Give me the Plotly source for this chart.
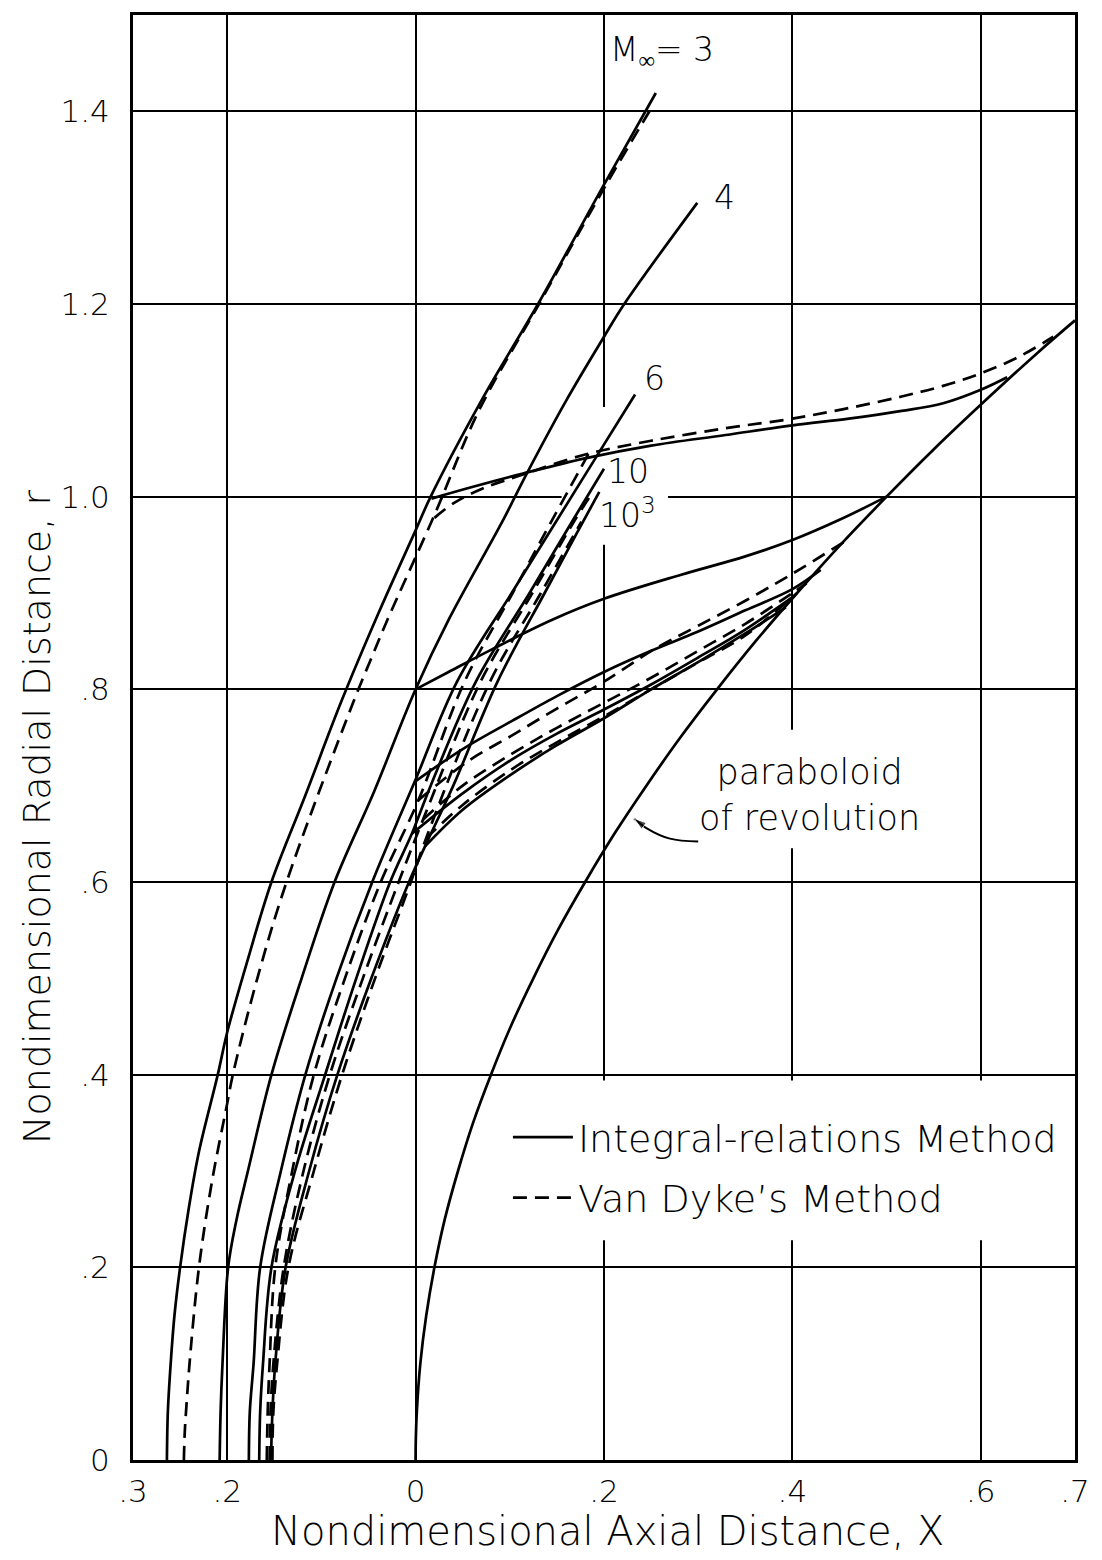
import plotly.graph_objects as go

# ---------------- data (X = axial distance, r = radial distance) ----------------
# Shock waves, Integral-relations method (solid)
m3_int_x = [-0.264, -0.263, -0.260, -0.256, -0.250, -0.241, -0.230, -0.210, -0.200, -0.178, -0.153, -0.117, -0.079, -0.039, 0.000, 0.016, 0.070, 0.130, 0.200, 0.255]
m3_int_r = [0.00, 0.05, 0.10, 0.15, 0.20, 0.26, 0.32, 0.40, 0.444, 0.52, 0.60, 0.69, 0.787, 0.88, 0.965, 1.00, 1.10, 1.20, 1.324, 1.419]
m4_int_x = [-0.208, -0.207, -0.205, -0.199, -0.190, -0.178, -0.153, -0.121, -0.086, -0.044, 0.000, 0.035, 0.092, 0.118, 0.160, 0.200, 0.2215, 0.299]
m4_int_r = [0.00, 0.05, 0.10, 0.20, 0.25, 0.30, 0.40, 0.50, 0.60, 0.694, 0.80, 0.872, 0.974, 1.024, 1.10, 1.166, 1.20, 1.305]
m6_int_x = [-0.177, -0.176, -0.172, -0.165, -0.143, -0.117, -0.084, -0.046, -0.001, 0.044, 0.102, 0.149, 0.191, 0.233]
m6_int_r = [0.00, 0.05, 0.10, 0.20, 0.30, 0.40, 0.50, 0.60, 0.704, 0.808, 0.90, 0.974, 1.04, 1.106]
m10_int_x = [-0.166, -0.165, -0.162, -0.153, -0.128, -0.096, -0.063, -0.027, -0.004, 0.016, 0.064, 0.121, 0.166, 0.200]
m10_int_r = [0.00, 0.05, 0.10, 0.20, 0.30, 0.40, 0.50, 0.60, 0.65, 0.70, 0.808, 0.90, 0.974, 1.029]
m1000_int_x = [-0.1535, -0.152, -0.149, -0.138, -0.113, -0.083, -0.047, -0.007, 0.010, 0.040, 0.087, 0.137, 0.170, 0.195]
m1000_int_r = [0.00, 0.05, 0.10, 0.20, 0.30, 0.40, 0.50, 0.60, 0.637, 0.70, 0.808, 0.90, 0.96, 1.005]

# Shock waves, Van Dyke's method (dashed)
m3_vd_x = [-0.246, -0.245, -0.243, -0.240, -0.230, -0.216, -0.200, -0.194, -0.168, -0.137, -0.066, -0.045, -0.030, 0.020, 0.067, 0.131, 0.200, 0.250]
m3_vd_r = [0.00, 0.03, 0.06, 0.10, 0.20, 0.29, 0.37, 0.40, 0.50, 0.60, 0.787, 0.837, 0.872, 0.981, 1.089, 1.20, 1.32, 1.403]
m6_vd_x = [-0.158, -0.157, -0.155, -0.149, -0.131, -0.108, -0.075, -0.037, 0.003, 0.052, 0.103, 0.144, 0.185]
m6_vd_r = [0.00, 0.05, 0.10, 0.20, 0.30, 0.40, 0.50, 0.60, 0.685, 0.808, 0.90, 0.974, 1.047]
m10_vd_x = [-0.155, -0.154, -0.151, -0.140, -0.119, -0.091, -0.056, -0.018, 0.008, 0.069, 0.124, 0.168, 0.185]
m10_vd_r = [0.00, 0.05, 0.10, 0.20, 0.30, 0.40, 0.50, 0.60, 0.665, 0.808, 0.90, 0.974, 1.00]
m1000_vd_x = [-0.152, -0.151, -0.147, -0.135, -0.108, -0.078, -0.043, -0.005, 0.011, 0.079, 0.133, 0.176]
m1000_vd_r = [0.00, 0.05, 0.10, 0.20, 0.30, 0.40, 0.50, 0.60, 0.645, 0.808, 0.90, 0.974]

# Limiting characteristics / sonic lines from shock to body
s3_int_x = [0.0168, 0.06, 0.114, 0.181, 0.25, 0.329, 0.40, 0.46, 0.516, 0.56, 0.60, 0.628]
s3_int_r = [0.998, 1.010, 1.024, 1.040, 1.053, 1.064, 1.074, 1.081, 1.089, 1.097, 1.111, 1.124]
s3_vd_x = [0.020, 0.04, 0.07, 0.114, 0.181, 0.25, 0.329, 0.40, 0.46, 0.516, 0.56, 0.60, 0.64, 0.677]
s3_vd_r = [0.978, 0.993, 1.008, 1.023, 1.044, 1.058, 1.071, 1.081, 1.092, 1.104, 1.115, 1.128, 1.145, 1.166]
s4_int_x = [0.0, 0.035, 0.08, 0.1445, 0.2, 0.282, 0.35, 0.40, 0.45, 0.50]
s4_int_r = [0.80, 0.818, 0.841, 0.872, 0.894, 0.919, 0.938, 0.955, 0.976, 1.00]
s6_int_x = [-0.001, 0.05, 0.102, 0.15, 0.2, 0.25, 0.30, 0.35, 0.40, 0.43]
s6_int_r = [0.704, 0.738, 0.767, 0.793, 0.818, 0.840, 0.860, 0.882, 0.904, 0.924]
s6_vd_x = [0.003, 0.055, 0.102, 0.15, 0.2, 0.254, 0.30, 0.35, 0.40, 0.458]
s6_vd_r = [0.685, 0.725, 0.752, 0.78, 0.808, 0.842, 0.866, 0.892, 0.92, 0.955]
s10_int_x = [-0.004, 0.05, 0.102, 0.15, 0.2, 0.25, 0.30, 0.35, 0.402]
s10_int_r = [0.65, 0.692, 0.727, 0.754, 0.779, 0.805, 0.833, 0.862, 0.897]
s10_vd_x = [0.008, 0.05, 0.102, 0.15, 0.2, 0.25, 0.30, 0.35, 0.40, 0.415]
s10_vd_r = [0.665, 0.70, 0.733, 0.76, 0.786, 0.812, 0.84, 0.868, 0.900, 0.91]
s1000_int_x = [0.010, 0.05, 0.102, 0.15, 0.2, 0.25, 0.303, 0.35, 0.393]
s1000_int_r = [0.637, 0.675, 0.712, 0.742, 0.77, 0.80, 0.83, 0.858, 0.885]
s1000_vd_x = [0.011, 0.05, 0.102, 0.15, 0.2, 0.25, 0.30, 0.35, 0.405]
s1000_vd_r = [0.645, 0.68, 0.717, 0.745, 0.772, 0.80, 0.828, 0.856, 0.90]

# Body: paraboloid of revolution
body_x = [0.0, 0.0002, 0.0013, 0.005, 0.0113, 0.020, 0.031, 0.045, 0.061, 0.080, 0.101, 0.125, 0.151,
          0.180, 0.211, 0.245, 0.281, 0.320, 0.361, 0.405, 0.451, 0.500, 0.551, 0.605, 0.661, 0.700]
body_r = [0.0, 0.02, 0.05, 0.10, 0.15, 0.20, 0.25, 0.30, 0.35, 0.40, 0.45, 0.50, 0.55,
          0.60, 0.65, 0.70, 0.75, 0.80, 0.85, 0.90, 0.95, 1.00, 1.05, 1.10, 1.15, 1.183]

# Leader from the "paraboloid of revolution" note to the body (last point = arrow tip)
leader_x = [0.300, 0.270, 0.245, 0.232]
leader_r = [0.642, 0.645, 0.656, 0.666]

x_tickvals = [-0.3, -0.2, 0.0, 0.2, 0.4, 0.6, 0.7]
x_ticktext = [".3", ".2", "0", ".2", ".4", ".6", ".7"]
y_tickvals = [0.0, 0.2, 0.4, 0.6, 0.8, 1.0, 1.2, 1.4]
y_ticktext = ["0", ".2", ".4", ".6", ".8", "1.0", "1.2", "1.4"]

# ---------------- figure ----------------
FONT = "DejaVu Sans"
DASH = "14px,8px"
fig = go.Figure()


def add(xs, rs, dashed=False, name=None, show=False, width=2.7):
    fig.add_trace(go.Scatter(
        x=xs, y=rs, mode="lines", name=name or "curve", showlegend=show,
        legendgroup=("vd" if dashed else "int"),
        line=dict(color="black", width=width, dash=(DASH if dashed else "solid"),
                  shape="spline", smoothing=1.0),
        hoverinfo="skip"))


add(m3_int_x, m3_int_r, False, "Integral-relations Method", True)
add(m3_vd_x, m3_vd_r, True, "Van Dyke\u2019s Method", True)
for xs, rs in [(m4_int_x, m4_int_r), (m6_int_x, m6_int_r), (m10_int_x, m10_int_r),
               (m1000_int_x, m1000_int_r), (s3_int_x, s3_int_r), (s4_int_x, s4_int_r),
               (s6_int_x, s6_int_r), (s10_int_x, s10_int_r), (s1000_int_x, s1000_int_r),
               (body_x, body_r)]:
    add(xs, rs, False)
for xs, rs in [(m6_vd_x, m6_vd_r), (m10_vd_x, m10_vd_r), (m1000_vd_x, m1000_vd_r),
               (s3_vd_x, s3_vd_r), (s6_vd_x, s6_vd_r), (s10_vd_x, s10_vd_r),
               (s1000_vd_x, s1000_vd_r)]:
    add(xs, rs, True)

# leader with arrow head at the body
fig.add_trace(go.Scatter(
    x=leader_x, y=leader_r, mode="lines+markers", showlegend=False, hoverinfo="skip",
    line=dict(color="black", width=2, shape="spline", smoothing=1.0),
    marker=dict(symbol=["circle"] * (len(leader_x) - 1) + ["arrow"],
                size=[0] * (len(leader_x) - 1) + [13], angleref="previous", color="black")))

# white areas that interrupt the grid (legend and labels)
for x0, x1, y0, y1 in [(0.078, 0.7, 0.228, 0.394), (0.155, 0.268, 0.95, 1.093),
                       (0.29, 0.56, 0.635, 0.758)]:
    fig.add_shape(type="rect", xref="x", yref="y", x0=x0, x1=x1, y0=y0, y1=y1,
                  fillcolor="white", line=dict(width=0), layer="between")

lab_font = dict(family=FONT, size=33, color="black")
labels = [
    ("M<sub>\u221e</sub>= 3", 0.262, 1.462, "center"),
    ("4", 0.328, 1.311, "center"),
    ("6", 0.254, 1.123, "center"),
    ("10", 0.201, 1.026, "left"),
    ("10<sup>3</sup>", 0.193, 0.983, "left"),
]
for txt, xx, yy, anc in labels:
    fig.add_annotation(x=xx, y=yy, xref="x", yref="y", text=txt, showarrow=False,
                       xanchor=anc, yanchor="middle", font=lab_font)

fig.add_annotation(x=0.418, y=0.69, xref="x", yref="y", text="paraboloid<br>of revolution",
                   showarrow=False, xanchor="center", yanchor="middle",
                   font=dict(family=FONT, size=35, color="black"))

# axis titles
fig.add_annotation(x=0.504, y=-0.049, xref="paper", yref="paper",
                   text="Nondimensional Axial Distance, X", showarrow=False,
                   xanchor="center", yanchor="middle", font=dict(family=FONT, size=40, color="black"))
fig.add_annotation(x=-0.102, y=0.445, xref="paper", yref="paper",
                   text="Nondimensional Radial Distance, r", showarrow=False, textangle=-90,
                   xanchor="center", yanchor="middle", font=dict(family=FONT, size=38, color="black"))

axis_common = dict(showgrid=True, gridcolor="black", gridwidth=2, zeroline=False,
                   showline=True, linecolor="black", linewidth=3, mirror=True, ticks="",
                   tickfont=dict(family=FONT, size=31, color="black"))
fig.update_xaxes(range=[-0.3, 0.7], tickmode="array", tickvals=x_tickvals, ticktext=x_ticktext,
                 ticklabelstandoff=2, **axis_common)
fig.update_yaxes(range=[0, 1.5], tickmode="array", tickvals=y_tickvals, ticktext=y_ticktext,
                 ticklabelstandoff=14, **axis_common)

fig.update_layout(
    width=1102, height=1560,
    margin=dict(l=133, r=12, t=13, b=100),
    paper_bgcolor="white", plot_bgcolor="white",
    font=dict(family=FONT, color="black", weight=300),
    legend=dict(x=0.398, y=0.245, xanchor="left", yanchor="top", bgcolor="rgba(0,0,0,0)",
                font=dict(family=FONT, size=38, color="black"), tracegroupgap=8, itemwidth=60),
)

fig.write_html("out.html")
